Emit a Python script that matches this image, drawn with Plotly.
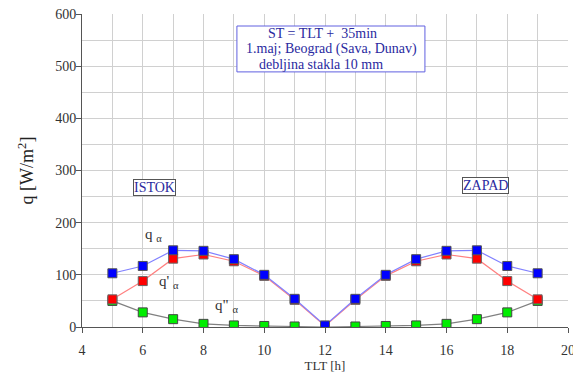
import plotly.graph_objects as go

hours = [5, 6, 7, 8, 9, 10, 11, 12, 13, 14, 15, 16, 17, 18, 19]
q_alpha = [103, 117, 147, 146, 130, 100, 54, 3, 54, 100, 130, 146, 147, 117, 103]
q1_alpha = [53, 88, 131, 139, 126, 98, 52, 2, 52, 98, 126, 139, 131, 88, 53]
q2_alpha = [50, 28, 15, 6, 3, 2, 1, 0, 1, 2, 3, 6, 15, 28, 50]

x_ticks = [4, 6, 8, 10, 12, 14, 16, 18, 20]
y_ticks = [0, 100, 200, 300, 400, 500, 600]

info_lines = ["ST = TLT +  35min", "1.maj; Beograd (Sava, Dunav)", "debljina stakla 10 mm"]

SERIF = "Times New Roman"

fig = go.Figure()
fig.add_trace(go.Scatter(x=hours, y=q2_alpha, mode="lines+markers",
                         line=dict(color="#808080", width=1.2),
                         marker=dict(symbol="square", size=9, color="#00ee00",
                                     line=dict(color="#444444", width=1))))
fig.add_trace(go.Scatter(x=hours, y=q1_alpha, mode="lines+markers",
                         line=dict(color="#ff8080", width=1.2),
                         marker=dict(symbol="square", size=9, color="#ff0000",
                                     line=dict(color="#666666", width=1))))
fig.add_trace(go.Scatter(x=hours, y=q_alpha, mode="lines+markers",
                         line=dict(color="#8080ff", width=1.2),
                         marker=dict(symbol="square", size=9, color="#0000ff",
                                     line=dict(color="#555555", width=1))))

axis_common = dict(showline=True, linecolor="#555555", linewidth=1,
                   ticks="outside", ticklen=5, tickcolor="#555555",
                   gridcolor="#d0d0d0", gridwidth=1, zeroline=False, automargin=False,
                   ticklabeloverflow="allow",
                   tickfont=dict(family=SERIF, size=14, color="#333333"))

fig.update_layout(
    width=573, height=367,
    margin=dict(l=74, r=13, t=6, b=48),
    paper_bgcolor="white", plot_bgcolor="white",
    font=dict(family=SERIF, size=13, color="#333333"),
    showlegend=False,
    xaxis=dict(range=[4, 20], tickvals=x_ticks, ticklabelstandoff=5,
               minor=dict(dtick=1, tick0=4, showgrid=True, gridcolor="#d0d0d0"),
               title=dict(text="TLT [h]", font=dict(family=SERIF, size=13, color="#333333"), standoff=1),
               **axis_common),
    yaxis=dict(range=[0, 600], tickvals=y_ticks, ticklabelstandoff=-3,
               minor=dict(dtick=50, tick0=0, showgrid=True, gridcolor="#d0d0d0"),
               title=dict(text="q [W/m<sup>2</sup>]", font=dict(family=SERIF, size=18, color="#222222"), standoff=16),
               **axis_common),
)

# information box
fig.add_shape(type="rect", xref="x", yref="y", x0=9.1, x1=15.29, y0=489, y1=577,
              line=dict(color="#6060e0", width=1), fillcolor="white", layer="above")
box_font = dict(family=SERIF, size=14, color="#2a2aa0")
for txt, xc, yc in zip(info_lines, [11.93, 12.23, 11.87], [563, 532, 503]):
    fig.add_annotation(x=xc, y=yc, xref="x", yref="y", showarrow=False, text=txt, font=box_font)

fig.add_annotation(x=6.4, y=268, xref="x", yref="y", showarrow=False, text="ISTOK",
                   font=box_font, bgcolor="white", bordercolor="#555555", borderwidth=1, borderpad=0)
fig.add_annotation(x=17.27, y=272, xref="x", yref="y", showarrow=False, text="ZAPAD",
                   font=box_font, bgcolor="white", bordercolor="#555555", borderwidth=1, borderpad=0)

lab_font = dict(family=SERIF, size=15, color="#333333")
fig.add_annotation(x=6.35, y=176, xref="x", yref="y", showarrow=False,
                   text="q <sub>α</sub>", font=lab_font)
fig.add_annotation(x=6.85, y=86, xref="x", yref="y", showarrow=False,
                   text="q' <sub>α</sub>", font=lab_font)
fig.add_annotation(x=8.75, y=40, xref="x", yref="y", showarrow=False,
                   text="q\" <sub>α</sub>", font=lab_font)

fig.write_html("out.html")
